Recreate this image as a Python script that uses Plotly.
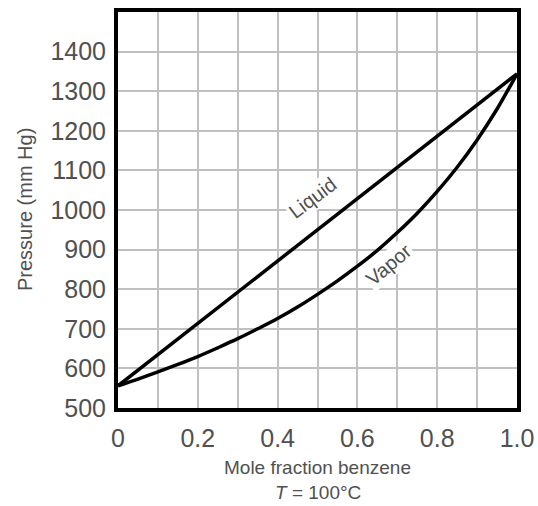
import plotly.graph_objects as go

# Data
liquid_x = [0.0, 1.0]
liquid_p = [556, 1344]

vapor_x = [0.0, 0.05, 0.1, 0.15, 0.2, 0.25, 0.3, 0.35, 0.4, 0.45, 0.5, 0.55,
           0.6, 0.65, 0.7, 0.75, 0.8, 0.85, 0.9, 0.95, 1.0]
vapor_p = [556, 573, 591, 610, 630, 652, 675, 700, 726, 755, 787, 821,
           858, 898, 943, 992, 1047, 1108, 1177, 1255, 1344]

x_tickvals = [0.0, 0.1, 0.2, 0.3, 0.4, 0.5, 0.6, 0.7, 0.8, 0.9, 1.0]
x_ticktext = ["0", "", "0.2", "", "0.4", "", "0.6", "", "0.8", "", "1.0"]
y_tickvals = [500, 600, 700, 800, 900, 1000, 1100, 1200, 1300, 1400]
y_ticktext = [str(v) for v in y_tickvals]

FONT = "Liberation Sans, Arial, sans-serif"
TXT = "#505050"

fig = go.Figure()
fig.add_trace(go.Scatter(x=liquid_x, y=liquid_p, mode="lines",
                         line=dict(color="black", width=3.5), hoverinfo="skip"))
fig.add_trace(go.Scatter(x=vapor_x, y=vapor_p, mode="lines",
                         line=dict(color="black", width=3.5, shape="spline"),
                         hoverinfo="skip"))

fig.add_annotation(x=0.487, y=1030, text="Liquid", showarrow=False, textangle=-37,
                   font=dict(family=FONT, size=20, color=TXT), bgcolor="white",
                   borderpad=1)
fig.add_annotation(x=0.678, y=860, text="Vapor", showarrow=False, textangle=-40,
                   font=dict(family=FONT, size=20, color=TXT), bgcolor="white",
                   borderpad=1)

fig.add_annotation(xref="paper", yref="paper", x=0.5, y=0, yanchor="middle",
                   yshift=-59, text="Mole fraction benzene", showarrow=False,
                   font=dict(family=FONT, size=19, color=TXT))
fig.add_annotation(xref="paper", yref="paper", x=0.5, y=0, yanchor="middle",
                   yshift=-84, text="<i>T</i> = 100°C", showarrow=False,
                   font=dict(family=FONT, size=19, color=TXT))
fig.add_annotation(xref="paper", yref="paper", x=0, y=0.5, xanchor="center",
                   yanchor="middle", xshift=-93, textangle=-90,
                   text="Pressure (mm Hg)", showarrow=False,
                   font=dict(family=FONT, size=20, color=TXT))

fig.update_xaxes(range=[0, 1], tickvals=x_tickvals, ticktext=x_ticktext,
                 showgrid=True, gridcolor="#c0c0c0", gridwidth=2,
                 showline=True, linecolor="black", linewidth=4, mirror=True,
                 ticks="outside", ticklen=5, tickcolor="rgba(0,0,0,0)",
                 ticklabeloverflow="allow", automargin=False,
                 tickfont=dict(family=FONT, size=25, color=TXT), zeroline=False)
fig.update_yaxes(range=[500, 1500], tickvals=y_tickvals, ticktext=y_ticktext,
                 showgrid=True, gridcolor="#c0c0c0", gridwidth=2,
                 showline=True, linecolor="black", linewidth=4, mirror=True,
                 ticks="outside", ticklen=3, tickcolor="rgba(0,0,0,0)",
                 ticklabeloverflow="allow", automargin=False,
                 tickfont=dict(family=FONT, size=25, color=TXT), zeroline=False)

fig.update_layout(width=538, height=506, showlegend=False,
                  margin=dict(l=118, r=21, t=12, b=98),
                  plot_bgcolor="white", paper_bgcolor="white")

# remove the default page margin so the figure fills the window exactly
fig.write_html("out.html", config={"displayModeBar": False},
               post_script="document.body.style.margin='0';document.body.style.overflow='hidden';")
